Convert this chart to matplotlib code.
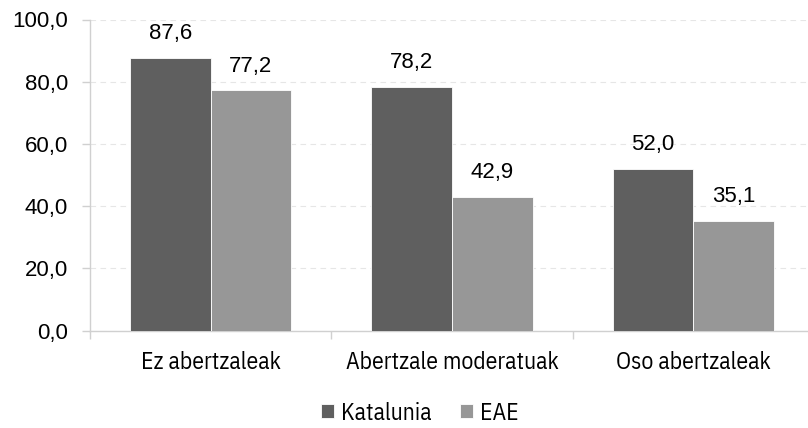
import numpy as np
import matplotlib.pyplot as plt

# === Data ===
categories = ["Ez abertzaleak", "Abertzale moderatuak", "Oso abertzaleak"]
katalunia = [87.6, 78.2, 52.0]
eae = [77.2, 42.9, 35.1]
series_names = ["Katalunia", "EAE"]
yticks = [0, 20, 40, 60, 80, 100]

def fmt(v):
    return f"{v:.1f}".replace(".", ",")

narrow = ["IBM Plex Sans Condensed", "DejaVu Sans"]
plt.rcParams["font.family"] = ["Liberation Sans", "DejaVu Sans"]

fig = plt.figure(figsize=(8.08, 4.28), dpi=100)
ax = fig.add_axes([90 / 808, 1 - 330.5 / 428, 724 / 808, 311 / 428])

x = np.arange(len(categories))
w = 0.334
b1 = ax.bar(x - w / 2, katalunia, w, color="#5f5f5f", edgecolor="white", linewidth=0.6,
            label=series_names[0], zorder=3)
b2 = ax.bar(x + w / 2, eae, w, color="#979797", edgecolor="white", linewidth=0.6,
            label=series_names[1], zorder=3)

for bars, vals in ((b1, katalunia), (b2, eae)):
    for r, v in zip(bars, vals):
        ax.annotate(fmt(v), (r.get_x() + r.get_width() / 2, v), xytext=(0, 10),
                    textcoords="offset points", ha="center", va="bottom", fontsize=16)

# === Axes ===
ax.set_ylim(0, 100)
ax.set_xlim(-0.5, 2.5)
ax.set_yticks(yticks)
ax.set_yticklabels([fmt(t) for t in yticks], fontsize=16)
ax.yaxis.grid(True, color="#e6e6e6", linestyle=(0, (5, 4)), linewidth=0.8, zorder=0)

ax.set_xticks(x)
ax.set_xticklabels(categories, family=narrow, fontsize=17)
ax.tick_params(axis="x", length=0, pad=15)
ax.set_xticks([-0.5, 0.5, 1.5, 2.5], minor=True)
ax.tick_params(axis="x", which="minor", length=6, color="#d0d0d0", width=1)
ax.tick_params(axis="y", length=6, color="#d0d0d0", width=1, pad=10)

for s in ("top", "right"):
    ax.spines[s].set_visible(False)
for s in ("left", "bottom"):
    ax.spines[s].set_color("#d0d0d0")
    ax.spines[s].set_linewidth(1)

leg = fig.legend(handles=[b1, b2], loc="center", bbox_to_anchor=(420 / 808, 1 - 413 / 428),
                 ncol=2, frameon=False, prop={"family": narrow, "size": 17},
                 handlelength=0.55, handleheight=0.55, handletextpad=0.3, columnspacing=1.2)

plt.savefig("out.png", dpi=100)
